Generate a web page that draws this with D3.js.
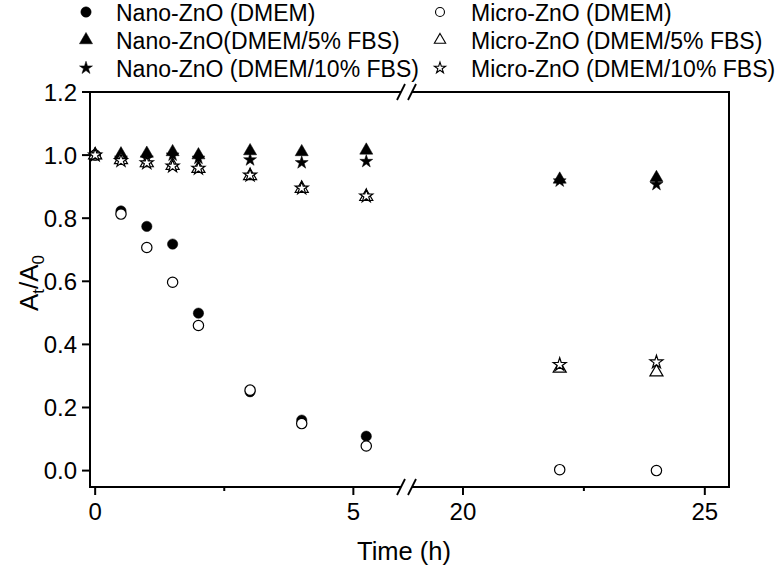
<!DOCTYPE html>
<html><head><meta charset="utf-8">
<script src="https://cdn.jsdelivr.net/npm/d3@7/dist/d3.min.js"></script>
<style>body{margin:0;background:#fff}svg{display:block}text{font-family:"Liberation Sans",Arial,sans-serif;fill:#000}</style>
</head><body><svg id="c" width="776" height="566"></svg>
<script>
const times = [0, 0.5, 1, 1.5, 2, 3, 4, 5.25, 22, 24];
const nanoDMEM   = [1.0, 0.823, 0.774, 0.718, 0.499, 0.250, 0.160, 0.109, null, null];
const nano5FBS   = [1.0, 1.003, 1.005, 1.010, 1.000, 1.013, 1.010, 1.015, 0.923, 0.928];
const nano10FBS  = [1.0, 0.990, 0.990, 1.000, 0.990, 0.985, 0.976, 0.980, 0.918, 0.907];
const microDMEM  = [1.0, 0.813, 0.707, 0.597, 0.460, 0.255, 0.149, 0.078, 0.003, 0.000];
const micro5FBS  = [1.0, 0.985, 0.975, 0.967, 0.957, 0.934, 0.894, 0.868, 0.324, 0.312];
const micro10FBS = [1.0, 0.982, 0.975, 0.965, 0.958, 0.936, 0.895, 0.870, 0.336, 0.344];
const seriesNames = ["Nano-ZnO (DMEM)", "Nano-ZnO(DMEM/5% FBS)", "Nano-ZnO (DMEM/10% FBS)",
                     "Micro-ZnO (DMEM)", "Micro-ZnO (DMEM/5% FBS)", "Micro-ZnO (DMEM/10% FBS)"];
const yTicks = [0.0, 0.2, 0.4, 0.6, 0.8, 1.0, 1.2];
const xTicks1 = [0, 5], xMinor1 = [2.5];
const xTicks2 = [20, 25], xMinor2 = [22.5];

const series = [
  {name: seriesNames[0], vals: nanoDMEM,   sym: d3.symbolCircle,   filled: true},
  {name: seriesNames[1], vals: nano5FBS,   sym: d3.symbolTriangle, filled: true},
  {name: seriesNames[2], vals: nano10FBS,  sym: d3.symbolStar,     filled: true},
  {name: seriesNames[3], vals: microDMEM,  sym: d3.symbolCircle,   filled: false},
  {name: seriesNames[4], vals: micro5FBS,  sym: d3.symbolTriangle, filled: false},
  {name: seriesNames[5], vals: micro10FBS, sym: d3.symbolStar,     filled: false}
];
const symSize = {circle: 84, triangle: 74, star: 52};
function sizeOf(sym){ return sym===d3.symbolCircle?symSize.circle:sym===d3.symbolTriangle?symSize.triangle:symSize.star; }

const svg = d3.select("#c");
const L = 90, R = 729, T = 92, B = 487;
const brk1 = 401, brk2 = 412;
const x1 = d3.scaleLinear().domain([-0.1, 6]).range([L, 405]);
const x2 = d3.scaleLinear().domain([19, 25.5]).range([414.6, R]);
const y = d3.scaleLinear().domain([-0.052, 1.2]).range([B, T]);
const xs = t => t <= 10 ? x1(t) : x2(t);

const ax = svg.append("g").attr("stroke", "#000").attr("stroke-width", 2).attr("fill", "none");
ax.append("line").attr("x1", L).attr("x2", L).attr("y1", T).attr("y2", B + 1);
ax.append("line").attr("x1", R).attr("x2", R).attr("y1", T - 1).attr("y2", B + 1);
[T, B].forEach(yy => {
  ax.append("line").attr("x1", L - 1).attr("x2", brk1).attr("y1", yy).attr("y2", yy);
  ax.append("line").attr("x1", brk2).attr("x2", R + 1).attr("y1", yy).attr("y2", yy);
  [brk1, brk2].forEach(bx => {
    ax.append("line").attr("x1", bx - 4).attr("x2", bx + 4).attr("y1", yy + 8).attr("y2", yy - 8)
      .attr("stroke-width", 1.8);
  });
});
yTicks.forEach(v => {
  ax.append("line").attr("x1", L - 8).attr("x2", L).attr("y1", y(v)).attr("y2", y(v));
  svg.append("text").attr("x", L - 13).attr("y", y(v) + 8.5).attr("text-anchor", "end")
    .attr("font-size", 24).text(v.toFixed(1));
});
[[x1, xTicks1, xMinor1], [x2, xTicks2, xMinor2]].forEach(([sc, maj, min]) => {
  maj.forEach(v => {
    ax.append("line").attr("x1", sc(v)).attr("x2", sc(v)).attr("y1", B).attr("y2", B + 8);
    svg.append("text").attr("x", sc(v)).attr("y", B + 33).attr("text-anchor", "middle")
      .attr("font-size", 24).text(v);
  });
  min.forEach(v => {
    ax.append("line").attr("x1", sc(v)).attr("x2", sc(v)).attr("y1", B).attr("y2", B + 4);
  });
});
svg.append("text").attr("x", 404).attr("y", 560).attr("text-anchor", "middle")
  .attr("font-size", 25.5).text("Time (h)");
const yt = svg.append("text").attr("transform", "translate(38,283) rotate(-90)")
  .attr("text-anchor", "middle").attr("font-size", 26);
yt.append("tspan").text("A");
yt.append("tspan").attr("font-size", 17).attr("dy", 6).text("t");
yt.append("tspan").attr("dy", -6).text("/A");
yt.append("tspan").attr("font-size", 17).attr("dy", 6).text("0");

const marks = svg.append("g");
series.forEach(s => {
  const pts = times.map((t, i) => ({t, v: s.vals[i]})).filter(d => d.v !== null);
  marks.selectAll(null).data(pts).enter().append("path")
    .attr("transform", d => `translate(${xs(d.t)},${y(d.v)})`)
    .attr("d", d3.symbol().type(s.sym).size(sizeOf(s.sym)))
    .attr("fill", s.filled ? "#000" : "#fff")
    .attr("stroke", "#000").attr("stroke-width", s.filled ? 0.5 : 1.2);
});

const lg = svg.append("g");
series.forEach((s, i) => {
  const col = i < 3 ? 0 : 1, row = i % 3;
  const mx = col === 0 ? 86 : 440, tx = col === 0 ? 116 : 471;
  const cy = 12 + row * 28;
  const sc = s.filled ? 1.0 : 0.75;
  lg.append("path").attr("transform", `translate(${mx},${cy})`)
    .attr("d", d3.symbol().type(s.sym).size(sizeOf(s.sym) * sc))
    .attr("fill", s.filled ? "#000" : "#fff").attr("stroke", "#000").attr("stroke-width", s.filled ? 0.5 : 1.1);
  lg.append("text").attr("x", tx).attr("y", cy + 8.5).attr("font-size", 23).text(s.name);
});
</script></body></html>
